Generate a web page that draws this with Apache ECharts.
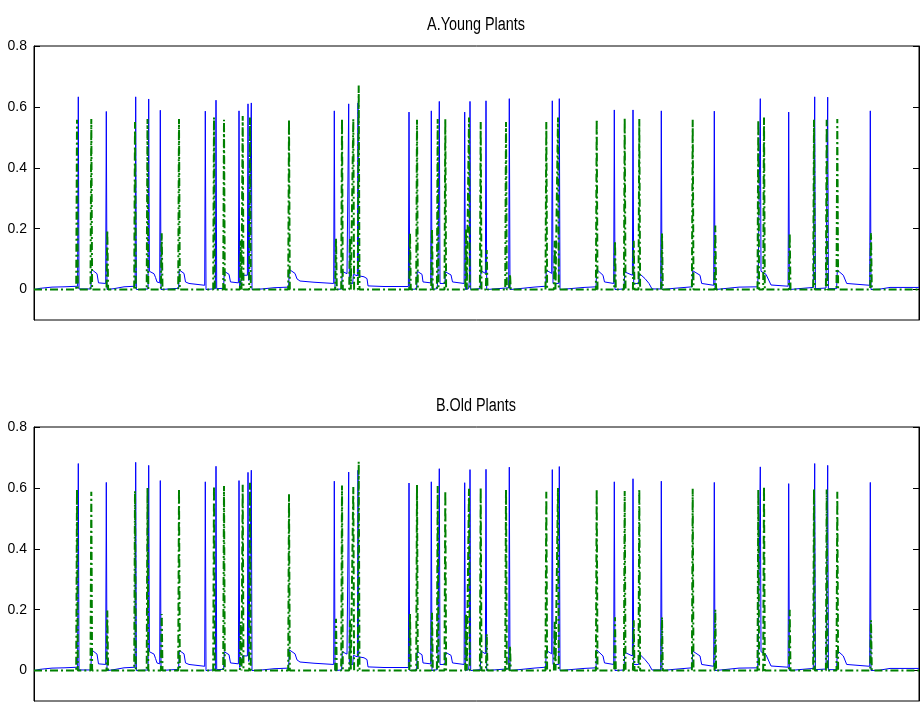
<!DOCTYPE html>
<html><head><meta charset="utf-8">
<script src="https://cdn.jsdelivr.net/npm/echarts@6/dist/echarts.min.js"></script>
<style>html,body{margin:0;padding:0;background:#fff}#c{width:922px;height:703px}</style>
</head><body><div id="c"></div><script>
const panelTitles = ['A.Young Plants', 'B.Old Plants'];
const yTicks = [0, 0.2, 0.4, 0.6, 0.8];
const timeRange = [0, 885];

// blue (solid) trace, panel A: [time, value]
const blueA = [
[0,0],[6,0.004],[18,0.008],[30,0.009],[43.6,0.011],[44.3,0.633],[45,0.002],[56.8,0.002],
[57.6,0.066],[63,0.052],[64.5,0.022],[71.7,0.02],[72.3,0.585],[73,0],[80,0.003],[90,0.009],[101.1,0.011],
[101.7,0.633],[102.4,0],[114.1,0.002],[114.7,0.626],[115.4,0.06],[120,0.052],[121.5,0.04],[123,0.025],[125.7,0.022],
[126.3,0.589],[127,0],[135,0.002],[144.6,0.004],[145.3,0.064],[150,0.053],[151.5,0.025],[155,0.02],[170.7,0.014],
[171.3,0.586],[172,0],[181.4,0.003],[182,0.622],[182.7,0.003],[189.6,0.004],[190.3,0.06],[195,0.05],[196.5,0.025],[204.4,0.022],
[205,0.587],[205.7,0.01],[208.7,0.047],[213.4,0.047],[214,0.61],[214.7,0.03],[216.7,0.03],[217.3,0.613],[218,0],
[228,0.002],[240,0.006],[254.6,0.008],[255.3,0.066],[261,0.053],[263,0.035],[266,0.028],[280,0.024],[299.7,0.02],
[300.3,0.587],[301,0],[307.6,0.002],[308.3,0.06],[313,0.052],[314.1,0.05],[314.7,0.61],[315.4,0.02],[318.7,0.02],
[319.4,0.05],[323.4,0.045],[324,0.613],[324.7,0.045],[330,0.042],[333,0.036],[334,0.012],[350,0.01],[374.4,0.01],
[375,0.583],[375.7,0],[382.6,0.002],[383.3,0.06],[388,0.05],[389,0.025],[396.7,0.022],[397.3,0.587],[398,0],
[403.2,0.003],[404,0.05],[404.7,0.05],[405.3,0.618],[406,0.02],[410.8,0.02],[411.5,0.058],[417,0.048],[418.5,0.025],[430.1,0.02],
[430.7,0.583],[431.4,0],[434.6,0.003],[435.4,0.03],[436,0.618],[436.7,0],[446.2,0.003],[447,0.062],[451.4,0.053],
[452,0.62],[452.7,0],[460,0.002],[471.7,0.005],[474.7,0.006],[475.3,0.627],[476,0],[485,0.003],[500,0.008],[511.6,0.011],
[512.3,0.064],[517.7,0.053],[518.3,0.62],[519,0.02],[524.7,0.02],[525.3,0.627],[526,0],[536,0.003],[550,0.007],[562,0.009],
[562.7,0.066],[569,0.047],[570.5,0.025],[579.7,0.02],[580.3,0.59],[581,0],[590,0.002],[590.7,0.058],[598.4,0.047],
[599,0.59],[599.7,0.02],[604.6,0.02],[605.3,0.053],[611,0.036],[615,0.02],[618,0.002],[626.7,0.002],[627.3,0.587],[628,0],
[640,0.004],[658,0.009],[658.7,0.062],[666,0.047],[667.7,0.02],[679.7,0.014],[680.3,0.586],[681,0],[690,0.003],[705,0.008],[723.6,0.009],
[724.3,0.066],[725.7,0.064],[726.3,0.627],[727,0.06],[732,0.05],[737,0.015],[754.1,0.011],[754.7,0.583],[755.4,0],
[765,0.003],[779.3,0.007],[780.1,0.008],[780.7,0.633],[781.4,0.003],[792,0.005],[793.1,0.006],[793.7,0.632],[794.4,0.003],
[802.6,0.003],[803.3,0.064],[809.3,0.047],[812.7,0.02],[835.7,0.014],[836.3,0.587],[837,0],[845,0.001],[856,0.007],[885,0.007]
];

// blue (solid) trace, panel B
const blueB = [
[0,0],[6,0.004],[18,0.008],[30,0.009],[43.6,0.011],[44.3,0.68],[45,0.002],[56.8,0.002],
[57.6,0.068],[63,0.054],[64.5,0.022],[71.7,0.02],[72.3,0.618],[73,0],[80,0.003],[90,0.009],[101.1,0.011],
[101.7,0.684],[102.4,0],[114.1,0.002],[114.7,0.674],[115.4,0.062],[120,0.054],[121.5,0.04],[123,0.025],[125.7,0.022],
[126.3,0.624],[127,0],[135,0.002],[144.6,0.004],[145.3,0.066],[150,0.055],[151.5,0.025],[155,0.02],[170.7,0.014],
[171.3,0.62],[172,0],[181.4,0.003],[182,0.671],[182.7,0.003],[189.6,0.004],[190.3,0.062],[195,0.052],[196.5,0.025],[204.4,0.022],
[205,0.624],[205.7,0.01],[208.7,0.048],[213.4,0.048],[214,0.651],[214.7,0.03],[216.7,0.03],[217.3,0.658],[218,0],
[228,0.002],[240,0.006],[254.6,0.008],[255.3,0.068],[261,0.055],[263,0.035],[266,0.028],[280,0.024],[299.7,0.02],
[300.3,0.622],[301,0],[307.6,0.002],[308.3,0.062],[313,0.054],[314.1,0.05],[314.7,0.652],[315.4,0.02],[318.7,0.02],
[319.4,0.05],[323.4,0.045],[324,0.658],[324.7,0.045],[330,0.042],[333,0.036],[334,0.012],[350,0.01],[374.4,0.01],
[375,0.616],[375.7,0],[382.6,0.002],[383.3,0.062],[388,0.052],[389,0.025],[396.7,0.022],[397.3,0.62],[398,0],
[403.2,0.003],[404,0.05],[404.7,0.05],[405.3,0.663],[406,0.02],[410.8,0.02],[411.5,0.06],[417,0.05],[418.5,0.025],[430.1,0.02],
[430.7,0.617],[431.4,0],[434.6,0.003],[435.4,0.03],[436,0.66],[436.7,0],[446.2,0.003],[447,0.064],[451.4,0.055],
[452,0.661],[452.7,0],[460,0.002],[471.7,0.005],[474.7,0.006],[475.3,0.668],[476,0],[485,0.003],[500,0.008],[511.6,0.011],
[512.3,0.066],[517.7,0.055],[518.3,0.66],[519,0.02],[524.7,0.02],[525.3,0.67],[526,0],[536,0.003],[550,0.007],[562,0.009],
[562.7,0.068],[569,0.048],[570.5,0.025],[579.7,0.02],[580.3,0.62],[581,0],[590,0.002],[590.7,0.06],[598.4,0.048],
[599,0.63],[599.7,0.02],[604.6,0.02],[605.3,0.055],[611,0.036],[615,0.02],[618,0.002],[626.7,0.002],[627.3,0.622],[628,0],
[640,0.004],[658,0.009],[658.7,0.064],[666,0.048],[667.7,0.02],[679.7,0.014],[680.3,0.618],[681,0],[690,0.003],[705,0.008],[723.6,0.009],
[724.3,0.068],[725.7,0.066],[726.3,0.669],[727,0.062],[732,0.052],[737,0.015],[754.1,0.011],[754.7,0.614],[755.4,0],
[765,0.003],[779.3,0.007],[780.1,0.008],[780.7,0.68],[781.4,0.003],[792,0.005],[793.1,0.006],[793.7,0.674],[794.4,0.003],
[802.6,0.003],[803.3,0.066],[809.3,0.048],[812.7,0.02],[835.7,0.014],[836.3,0.618],[837,0],[845,0.001],[856,0.007],[885,0.007]
];

// green (dash-dot) spikes: [time, peak]; the trace rests at 0 between spikes
const greenSpikesA = [
[43,0.558],[57.3,0.56],[73.3,0.195],[101,0.55],[113.5,0.56],[127.7,0.185],[145,0.56],[180,0.565],[190,0.558],
[206.7,0.16],[208.7,0.57],[216,0.565],[255,0.558],[302,0.168],[308,0.56],[316,0.17],[319.3,0.56],[324.7,0.67],
[376,0.185],[383,0.558],[398,0.2],[403.7,0.56],[411.3,0.56],[432,0.2],[435,0.565],[446.7,0.55],[452.7,0.13],
[472,0.55],[476,0.05],[512.3,0.55],[520.7,0.16],[524,0.565],[562.7,0.558],[581,0.16],[590.7,0.563],[599.7,0.16],
[605.3,0.56],[628,0.185],[658.7,0.558],[681.3,0.21],[724.3,0.556],[730,0.565],[755.7,0.185],[780,0.558],
[792.7,0.558],[803.3,0.56],[837,0.185]
];
const greenSpikesB = [
[43,0.595],[57.3,0.587],[73.3,0.197],[101,0.59],[113.5,0.6],[127.7,0.186],[145,0.597],[180,0.606],[190,0.606],
[206.7,0.16],[208.7,0.61],[216,0.617],[255,0.579],[302,0.17],[308,0.608],[316,0.165],[319.3,0.603],[324.7,0.686],
[376,0.186],[383,0.61],[398,0.19],[403.7,0.606],[411.3,0.59],[432,0.186],[435,0.597],[446.7,0.6],[452.7,0.12],
[472,0.595],[476,0.08],[512.3,0.587],[520.7,0.16],[524,0.6],[562.7,0.595],[581,0.175],[590.7,0.59],[599.7,0.165],
[605.3,0.595],[628,0.175],[658.7,0.597],[681.3,0.2],[724.3,0.594],[730,0.605],[755.7,0.2],[780,0.596],
[792.7,0.595],[803.3,0.587],[837,0.165]
];

function greenPath(spikes) {
  const d = [[timeRange[0], 0]];
  spikes.forEach(([x, h]) => { d.push([x - 0.8, 0], [x, h], [x + 0.8, 0]); });
  d.push([timeRange[1], 0]);
  return d;
}

const grids = [
  { left: 34, width: 885, top: 46, height: 274 },
  { left: 34, width: 885, top: 427, height: 274 }
];
const font = "'Liberation Sans', Arial, sans-serif";

function yAx(gi, pos) {
  return {
    type: 'value', gridIndex: gi, position: pos, min: -0.1, max: 0.8,
    axisLine: { show: true, onZero: false, lineStyle: { color: '#000', width: 1 } },
    axisTick: { show: true, inside: true, length: 6, customValues: yTicks, lineStyle: { color: '#000', width: 1 } },
    axisLabel: { show: pos === 'left', customValues: yTicks, color: '#000', fontFamily: font, fontSize: 14, margin: 7,
      formatter: v => String(Math.round(v * 10) / 10) },
    splitLine: { show: false }
  };
}

const chart = echarts.init(document.getElementById('c'), null, { renderer: 'canvas' });
chart.setOption({
  animation: false,
  backgroundColor: '#fff',
  graphic: panelTitles.map((t, i) => ({
    type: 'text', x: 476, y: i === 0 ? 25 : 406, scaleX: 0.8, scaleY: 1, silent: true,
    style: { text: t, fill: '#000', font: "18px 'Liberation Sans', Arial, sans-serif", textAlign: 'center', textVerticalAlign: 'middle' }
  })),
  grid: grids.map(g => Object.assign({ show: true, borderColor: '#000', borderWidth: 1, backgroundColor: 'transparent' }, g)),
  xAxis: [0, 1].map(i => ({ type: 'value', gridIndex: i, min: timeRange[0], max: timeRange[1], show: false })),
  yAxis: [yAx(0, 'left'), yAx(0, 'right'), yAx(1, 'left'), yAx(1, 'right')],
  series: [
    { type: 'line', xAxisIndex: 0, yAxisIndex: 0, data: blueA, symbol: 'none', lineStyle: { color: '#0000ff', width: 1 }, z: 2, silent: true },
    { type: 'line', xAxisIndex: 0, yAxisIndex: 0, data: greenPath(greenSpikesA), symbol: 'none', lineStyle: { color: '#008000', width: 2, type: [8, 3, 2, 3] }, z: 3, silent: true },
    { type: 'line', xAxisIndex: 1, yAxisIndex: 2, data: blueB, symbol: 'none', lineStyle: { color: '#0000ff', width: 1 }, z: 2, silent: true },
    { type: 'line', xAxisIndex: 1, yAxisIndex: 2, data: greenPath(greenSpikesB), symbol: 'none', lineStyle: { color: '#008000', width: 2, type: [8, 3, 2, 3] }, z: 3, silent: true }
  ]
});
</script></body></html>
